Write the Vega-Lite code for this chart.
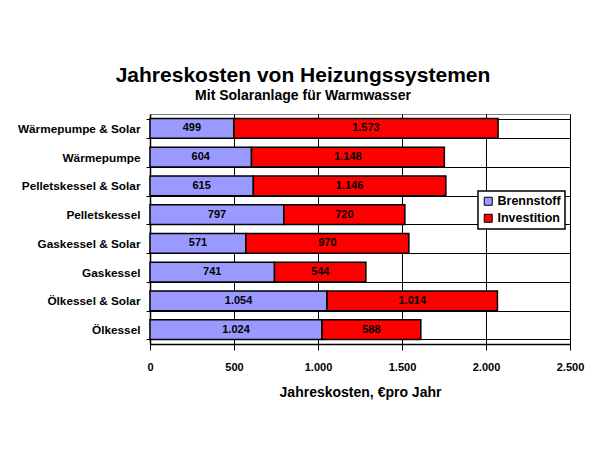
{
  "$schema": "https://vega.github.io/schema/vega-lite/v6.json",
  "autosize": {"type": "none"},
  "width": 420,
  "height": 230,
  "padding": {"left": 150, "top": 114, "right": 30, "bottom": 106},
  "background": "white",
  "title": {
    "text": "Jahreskosten von Heizungssystemen",
    "subtitle": "Mit Solaranlage für Warmwasser",
    "anchor": "middle",
    "frame": "group",
    "dx": -57,
    "offset": 6,
    "font": "Liberation Sans",
    "fontSize": 21,
    "fontWeight": "bold",
    "color": "black",
    "subtitleFont": "Liberation Sans",
    "subtitleFontSize": 14,
    "subtitleFontWeight": "bold",
    "subtitleColor": "black",
    "subtitlePadding": 3
  },
  "data": {
    "values": [
      {"system": "Wärmepumpe & Solar", "kosten": "Brennstoff", "wert": 499},
      {"system": "Wärmepumpe & Solar", "kosten": "Investition", "wert": 1573},
      {"system": "Wärmepumpe", "kosten": "Brennstoff", "wert": 604},
      {"system": "Wärmepumpe", "kosten": "Investition", "wert": 1148},
      {"system": "Pelletskessel & Solar", "kosten": "Brennstoff", "wert": 615},
      {"system": "Pelletskessel & Solar", "kosten": "Investition", "wert": 1146},
      {"system": "Pelletskessel", "kosten": "Brennstoff", "wert": 797},
      {"system": "Pelletskessel", "kosten": "Investition", "wert": 720},
      {"system": "Gaskessel & Solar", "kosten": "Brennstoff", "wert": 571},
      {"system": "Gaskessel & Solar", "kosten": "Investition", "wert": 970},
      {"system": "Gaskessel", "kosten": "Brennstoff", "wert": 741},
      {"system": "Gaskessel", "kosten": "Investition", "wert": 544},
      {"system": "Ölkessel & Solar", "kosten": "Brennstoff", "wert": 1054},
      {"system": "Ölkessel & Solar", "kosten": "Investition", "wert": 1014},
      {"system": "Ölkessel", "kosten": "Brennstoff", "wert": 1024},
      {"system": "Ölkessel", "kosten": "Investition", "wert": 588}
    ]
  },
  "transform": [
    {"stack": "wert", "groupby": ["system"], "sort": [{"field": "kosten", "order": "ascending"}], "as": ["x0", "x1"]},
    {"calculate": "(datum.x0 + datum.x1) / 2", "as": "mid"}
  ],
  "encoding": {
    "y": {
      "field": "system",
      "type": "nominal",
      "sort": null,
      "scale": {"paddingInner": 0.32, "paddingOuter": 0.16},
      "axis": {
        "title": null,
        "tickBand": "extent",
        "grid": true,
        "gridColor": "black",
        "gridWidth": 1,
        "gridOpacity": 1,
        "domainColor": "black",
        "domainWidth": 1.5,
        "tickColor": "black",
        "tickSize": 4,
        "tickWidth": 1,
        "labelPadding": 6,
        "labelFont": "Liberation Sans",
        "labelFontSize": 11.8,
        "labelFontWeight": "bold",
        "labelColor": "black"
      }
    }
  },
  "layer": [
    {
      "mark": {"type": "bar", "stroke": "black", "strokeWidth": 1.5},
      "encoding": {
        "x": {
          "field": "x0",
          "type": "quantitative",
          "scale": {"domain": [0, 2500], "nice": false},
          "axis": {
            "title": "Jahreskosten, €pro Jahr",
            "values": [0, 500, 1000, 1500, 2000, 2500],
            "format": ",d",
            "labelFlush": false,
            "grid": true,
            "gridColor": "black",
            "gridWidth": 1,
            "gridOpacity": 1,
            "domainColor": "black",
            "domainWidth": 1.5,
            "tickColor": "black",
            "tickSize": 6,
            "tickWidth": 1,
            "labelPadding": 11,
            "labelFont": "Liberation Sans",
            "labelFontSize": 11,
            "labelFontWeight": "bold",
            "labelColor": "black",
            "titleFont": "Liberation Sans",
            "titleFontSize": 14,
            "titleFontWeight": "bold",
            "titleColor": "black",
            "titlePadding": 13
          }
        },
        "x2": {"field": "x1"},
        "color": {
          "field": "kosten",
          "type": "nominal",
          "scale": {"domain": ["Brennstoff", "Investition"], "range": ["#9999FF", "#FF0000"]},
          "legend": {
            "title": null,
            "orient": "none",
            "legendX": 328,
            "legendY": 77,
            "fillColor": "white",
            "strokeColor": "black",
            "padding": 4,
            "symbolType": "square",
            "symbolSize": 64,
            "symbolStrokeColor": "black",
            "symbolStrokeWidth": 1,
            "symbolOpacity": 1,
            "labelFont": "Liberation Sans",
            "labelFontSize": 12.5,
            "labelFontWeight": "bold",
            "labelColor": "black",
            "labelOffset": 3,
            "rowPadding": 4,
            "encode": {"legend": {"update": {"strokeWidth": {"value": 1.5}}}}
          }
        }
      }
    },
    {
      "mark": {"type": "text", "font": "Liberation Sans", "fontSize": 11, "fontWeight": "bold", "color": "black", "align": "center", "baseline": "middle"},
      "encoding": {
        "x": {"field": "mid", "type": "quantitative"},
        "text": {"field": "wert", "type": "quantitative", "format": ",d"}
      }
    }
  ],
  "config": {
    "locale": {"number": {"decimal": ",", "thousands": ".", "grouping": [3], "currency": ["", " €"]}},
    "view": {"stroke": "#808080", "strokeWidth": 1}
  }
}
